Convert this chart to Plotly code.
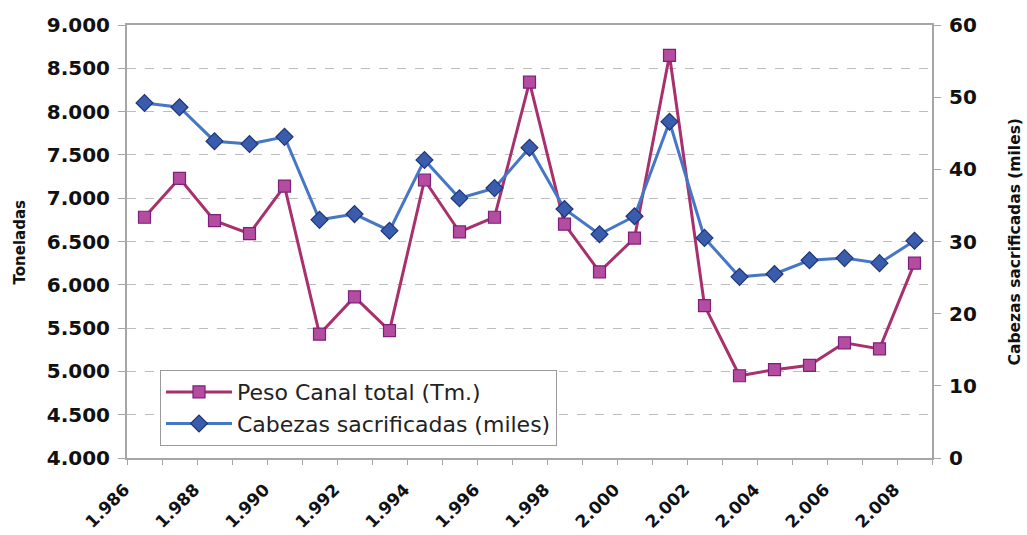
import plotly.graph_objects as go

# Annual series 1986-2008
years = [1986, 1987, 1988, 1989, 1990, 1991, 1992, 1993, 1994, 1995, 1996, 1997,
         1998, 1999, 2000, 2001, 2002, 2003, 2004, 2005, 2006, 2007, 2008]
peso_canal = [6780, 7230, 6740, 6590, 7140, 5430, 5860, 5470, 7210, 6610, 6780, 8340,
              6700, 6150, 6540, 8650, 5760, 4950, 5020, 5070, 5330, 5260, 6250]
cabezas = [49.2, 48.6, 43.9, 43.5, 44.5, 33.0, 33.8, 31.5, 41.3, 36.0, 37.4, 43.0,
           34.5, 31.0, 33.5, 46.6, 30.5, 25.1, 25.5, 27.4, 27.7, 27.0, 30.1]

name_peso = "Peso Canal total (Tm.)"
name_cab = "Cabezas sacrificadas (miles)"

FONT = "DejaVu Sans"
AXIS_GRAY = "#A6A6A6"
TICK_FONT = dict(family=FONT, size=20, color="#111111", weight="bold")

fig = go.Figure()
fig.add_trace(go.Scatter(
    x=years, y=peso_canal, name=name_peso, mode="lines+markers",
    line=dict(color="#A8306C", width=3),
    marker=dict(symbol="square", size=12, color="#B44CA0",
                line=dict(color="#7E1F7E", width=1.2)),
    yaxis="y",
))
fig.add_trace(go.Scatter(
    x=years, y=cabezas, name=name_cab, mode="lines+markers",
    line=dict(color="#4677C6", width=3),
    marker=dict(symbol="diamond", size=13, color="#3A5CAC",
                line=dict(color="#1F3578", width=1.2)),
    yaxis="y2",
))

fig.update_layout(
    width=1027, height=535,
    margin=dict(l=127, r=95, t=25, b=77),
    paper_bgcolor="white", plot_bgcolor="white",
    separators=",.",
    font=dict(family=FONT, color="#111111"),
    showlegend=True,
    legend=dict(
        x=0.041, y=0.203, xanchor="left", yanchor="top",
        bgcolor="white", bordercolor="#9A9A9A", borderwidth=1,
        font=dict(family=FONT, size=22, color="#222222"),
        tracegroupgap=0, itemwidth=66,
    ),
    xaxis=dict(
        range=[1985.5, 2008.5], automargin=False,
        tickmode="linear", tick0=1986, dtick=2, tickformat=",d",
        tickangle=-45, ticks="", showgrid=False, zeroline=False,
        ticklabelshift=-20, ticklabelstandoff=13,
        tickfont=dict(family=FONT, size=17, color="#111111", weight="bold"),
        showline=True, linecolor=AXIS_GRAY, linewidth=2, mirror=True,
        minor=dict(tick0=1985.5, dtick=1, ticks="outside", ticklen=5,
                   tickcolor=AXIS_GRAY, tickwidth=1, showgrid=False),
    ),
    yaxis=dict(
        range=[4000, 9000], automargin=False,
        tickmode="linear", tick0=4000, dtick=500,
        tickformat=",d", ticks="outside", ticklen=7, tickcolor=AXIS_GRAY,
        ticklabelstandoff=4, tickfont=TICK_FONT,
        showgrid=True, gridcolor="#BDBDBD", griddash="dash", gridwidth=1,
        zeroline=False, showline=True, linecolor=AXIS_GRAY, linewidth=2,
    ),
    yaxis2=dict(
        range=[0, 60], automargin=False,
        tickmode="linear", tick0=0, dtick=10,
        overlaying="y", side="right", ticks="outside", ticklen=7,
        tickcolor=AXIS_GRAY, ticklabelstandoff=4, tickfont=TICK_FONT,
        showgrid=False, zeroline=False, showline=True,
        linecolor=AXIS_GRAY, linewidth=2,
    ),
    annotations=[
        dict(text="<b>Toneladas</b>", x=-0.133, y=0.5, xref="paper", yref="paper",
             textangle=-90, showarrow=False, xanchor="center", yanchor="middle",
             font=dict(family=FONT, size=15, color="#111111")),
        dict(text="<b>Cabezas sacrificadas (miles)</b>", x=1.103, y=0.5,
             xref="paper", yref="paper", textangle=-90, showarrow=False,
             xanchor="center", yanchor="middle",
             font=dict(family=FONT, size=15.5, color="#111111")),
    ],
)

fig.write_html("out.html")
